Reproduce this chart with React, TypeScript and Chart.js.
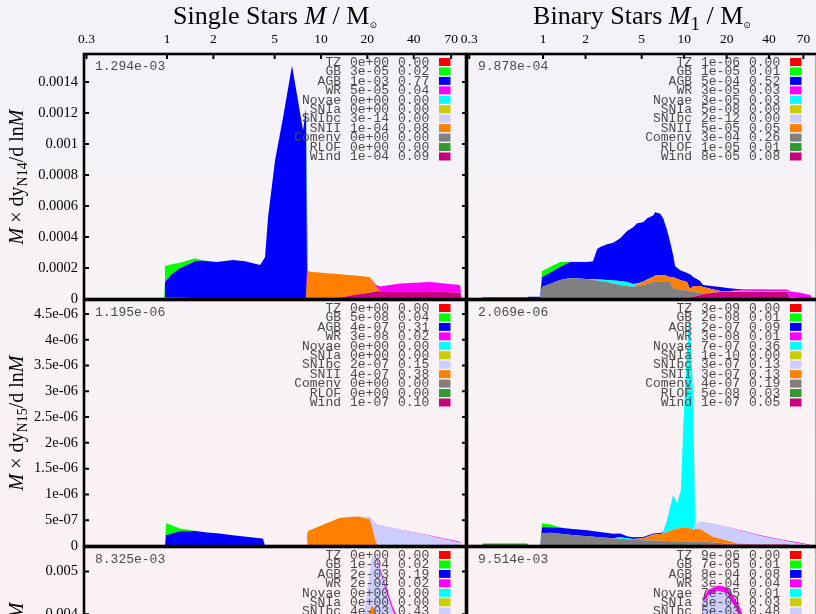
import { useEffect, useRef } from 'react';
import { Chart, registerables } from 'chart.js';

Chart.register(...registerables);

const CANVAS_W = 820;
const CANVAS_H = 800;

// Channels in legend order, with their fill colours
const CHANNELS = ['TZ', 'GB', 'AGB', 'WR', 'Novae', 'SNIa', 'SNIbc', 'SNII', 'Comenv', 'RLOF', 'Wind'];
const CHANNEL_COLORS = ['#ff0000', '#00ff00', '#0000ff', '#ff00ff', '#00ffff', '#cccc00', '#ccccff', '#ff8000', '#808080', '#339933', '#c8007f'];
// Stacking order, bottom to top
const STACK_ORDER = ['Wind', 'RLOF', 'Comenv', 'SNII', 'SNIbc', 'SNIa', 'Novae', 'WR', 'AGB', 'GB', 'TZ'];

const MASS_MIN = 0.289;
const MASS_MAX = 87.4;
const MASS_TICKS = [0.3, 1, 2, 5, 10, 20, 40, 70];
const MASS_TICK_LABELS = ['0.3', '1', '2', '5', '10', '20', '40', '70'];

const N14_Y_TICKS = [0, 0.0002, 0.0004, 0.0006, 0.0008, 0.001, 0.0012, 0.0014];
const N14_Y_LABELS = ['0', '0.0002', '0.0004', '0.0006', '0.0008', '0.001', '0.0012', '0.0014'];
const N15_Y_TICKS = [0, 5e-7, 1e-6, 1.5e-6, 2e-6, 2.5e-6, 3e-6, 3.5e-6, 4e-6, 4.5e-6];
const N15_Y_LABELS = ['0', '5e-07', '1e-06', '1.5e-06', '2e-06', '2.5e-06', '3e-06', '3.5e-06', '4e-06', '4.5e-06'];
const O16_Y_TICKS = [0, 0.001, 0.002, 0.003, 0.004, 0.005];
const O16_Y_LABELS = ['0', '0.001', '0.002', '0.003', '0.004', '0.005'];

// ---------- Single stars, N14 (values in units of 1e-5) ----------
const SN14_UNIT = 1e-5;
const SN14_MASS = [0.289, 0.956, 0.97, 1.06, 1.21, 1.52, 1.64, 2.11, 2.68, 3.21, 4.02, 4.33, 4.53, 5.03, 5.67, 6.48, 7.09, 7.64, 7.99, 8.11, 8.23, 8.48, 13.3, 17.4, 20.8, 22.8, 24.2, 32.6, 51.0, 80.0, 82.0, 87.4];
const SN14_WIND = [0, 0, 1, 1, 1, 0.5, 0.3, 0, 0, 0, 0, 0, 0, 0, 0, 0, 0, 0, 0, 0, 0, 0, 1, 3, 4, 5, 5, 5, 5, 4, 0, 0];
const SN14_SNII = [0, 0, 0, 0, 0, 0, 0, 0, 0, 0, 0, 0, 0, 0, 0, 0, 0, 0, 0, 18, 18, 17.5, 15, 12, 10, 3, 0, 0, 0, 0, 0, 0];
const SN14_WR = [0, 0, 0, 0, 0, 0, 0, 0, 0, 0, 0, 0, 0, 0, 0, 0, 0, 0, 0, 0, 0, 0, 0, 0, 0, 1, 3, 5, 6, 5, 0, 0];
const SN14_AGB = [0, 0, 10, 14.4, 18.9, 23.9, 24.5, 23.8, 25.1, 24.4, 21.9, 27, 52.7, 89.4, 117, 150.5, 128, 108.7, 122.8, 0, 0, 0, 0, 0, 0, 0, 0, 0, 0, 0, 0, 0];
const SN14_GB = [0, 0, 10.3, 6.8, 3.5, 1.9, 0.3, 0, 0, 0, 0, 0, 0, 0, 0, 0, 0, 0, 0, 0, 0, 0, 0, 0, 0, 0, 0, 0, 0, 0, 0, 0];
const SN14_YIELDS = ['0e+00', '3e-05', '1e-03', '5e-05', '0e+00', '0e+00', '3e-14', '1e-04', '0e+00', '0e+00', '1e-04'];
const SN14_FRACS = ['0.00', '0.02', '0.77', '0.04', '0.00', '0.00', '0.00', '0.08', '0.00', '0.00', '0.09'];

// ---------- Binary stars, N14 (units of 1e-5) ----------
const BN14_UNIT = 1e-5;
const BN14_MASS = [0.289, 0.37, 0.375, 0.77, 0.79, 0.952, 0.984, 1.32, 1.55, 2.05, 2.26, 2.42, 2.54, 2.84, 3.14, 3.52, 3.94, 4.35, 4.64, 5.12, 5.47, 6.03, 6.23, 6.76, 7.10, 7.57, 7.96, 8.35, 8.63, 9.37, 10.5, 11.0, 11.6, 12.98, 13.6, 18.0, 20.2, 23.8, 26.2, 34.6, 53.8, 56.4, 66.5, 78.3, 80.9, 87.4];
const BN14_WIND = [0, 0, 0, 0, 0, 0, 0, 0, 0, 0, 0, 0, 0, 0, 0, 0, 0, 0, 0, 0, 0, 0, 0, 0, 0, 0, 0, 0, 0, 0.5, 1, 1, 1.5, 2.6, 3.2, 4.5, 4.5, 4.5, 4.5, 4.5, 4.5, 0.6, 0.3, 0, 0, 0];
const BN14_RLOF = [0, 0, 1.3, 1.3, 0, 0, 0, 0, 0, 0, 0, 0, 0, 0, 0, 0, 0, 0, 0, 0, 0, 0, 0, 0, 0, 0, 0, 0, 0, 0, 0, 0, 0, 0, 0, 0, 0, 0, 0, 0, 0, 0, 0, 0, 0, 0];
const BN14_COMENV = [0, 0, 0, 0, 0, 0, 7.7, 12.2, 13.5, 12.9, 12.2, 11.9, 11.6, 10.9, 10.0, 9.0, 8.4, 7.7, 8.4, 9.0, 9.6, 10.9, 10.9, 10.9, 10.9, 10.9, 10.9, 7.1, 6.4, 5.8, 4.5, 3.9, 3.0, 1.3, 0.3, 0, 0, 0, 0, 0, 0, 0, 0, 0, 0, 0];
const BN14_SNII = [0, 0, 0, 0, 0, 0, 0, 0, 0, 0, 0, 0, 0, 0, 0, 0, 0, 0, 1.3, 1.9, 2.6, 3.5, 4.2, 4.5, 4.5, 3.9, 3.2, 7.1, 7.1, 5.9, 5.4, 1.5, 3.9, 4.5, 4.2, 0.6, 0.3, 0.2, 0, 0, 0, 0, 0, 0, 0, 0];
const BN14_SNIBC = [0, 0, 0, 0, 0, 0, 0, 0, 0, 0, 0, 0, 0, 0, 0, 0, 0, 0, 0, 0, 0, 0, 0, 0, 0, 0, 0, 0, 0, 0, 0, 0, 0, 0, 0, 0, 0, 0.3, 0.3, 0.3, 0.3, 0.3, 0.3, 0.2, 0, 0];
const BN14_NOVAE = [0, 0, 0, 0, 0, 0, 0, 0, 0, 0, 0.6, 0.7, 1.0, 1.3, 1.9, 2.6, 2.6, 1.9, 0.3, 0.3, 0.3, 0, 0, 0, 0, 0, 0, 0, 0, 0, 0, 0, 0, 0, 0, 0, 0, 0, 0, 0, 0, 0, 0, 0, 0, 0];
const BN14_WR = [0, 0, 0, 0, 0, 0, 0, 0, 0, 0, 0, 0, 0, 0, 0, 0, 0, 0, 0, 0, 0, 0, 0, 0, 0, 0, 0, 0, 0, 0, 0, 0, 0, 0, 0, 0, 0, 0.6, 0.8, 1.0, 1.3, 4.0, 3.5, 2.3, 0, 0];
const BN14_AGB = [0, 0, 0, 0, 1.5, 1.5, 6.4, 8.4, 10.3, 10.9, 11.6, 19.6, 20.9, 23.1, 24.4, 27.6, 32.8, 36.6, 38.9, 38.3, 39.5, 39.5, 40.8, 39.5, 36.7, 29.6, 22.5, 14.1, 7.7, 6.4, 5.8, 9.6, 5.8, 3.2, 1.3, 2.6, 2.3, 0.8, 0.5, 0.3, 0, 0, 0, 0, 0, 0];
const BN14_GB = [0, 0, 0, 0, 0, 0, 3.9, 3.2, 0.3, 0, 0, 0, 0, 0, 0, 0, 0, 0, 0, 0, 0, 0, 0, 0, 0, 0, 0, 0, 0, 0, 0, 0, 0, 0, 0, 0, 0, 0, 0, 0, 0, 0, 0, 0, 0, 0];
const BN14_YIELDS = ['1e-06', '1e-05', '5e-04', '3e-05', '3e-05', '5e-08', '2e-12', '5e-05', '3e-04', '1e-05', '8e-05'];
const BN14_FRACS = ['0.00', '0.01', '0.52', '0.03', '0.03', '0.00', '0.00', '0.05', '0.26', '0.01', '0.08'];

// ---------- Single stars, N15 (units of 1e-8) ----------
const SN15_UNIT = 1e-8;
const SN15_MASS = [0.289, 0.97, 0.985, 1.21, 1.52, 1.82, 2.11, 2.68, 4.02, 4.20, 4.33, 8.11, 8.23, 13.3, 17.4, 20.8, 22.8, 23.5, 32.6, 51.0, 80.0, 82.0, 87.4];
const SN15_WIND = [0, 0, 1, 1, 0.5, 0, 0, 0, 0, 0, 0, 0, 0, 0, 1, 1.5, 1.5, 1.5, 1.5, 1.5, 1.5, 0, 0];
const SN15_SNII = [0, 0, 0, 0, 0, 0, 0, 0, 0, 0, 0, 0, 29, 55, 56, 50, 5, 0, 0, 0, 0, 0, 0];
const SN15_SNIBC = [0, 0, 0, 0, 0, 0, 0, 0, 0, 0, 0, 0, 0, 0, 0, 5, 37, 40, 30, 18, 5, 0, 0];
const SN15_WR = [0, 0, 0, 0, 0, 0, 0, 0, 0, 0, 0, 0, 0, 0, 0, 0, 0, 0, 0.5, 1, 1.5, 0, 0];
const SN15_AGB = [0, 0, 19.8, 27.6, 28.5, 26, 24.7, 20.8, 15, 14, 0.5, 0.5, 0, 0, 0, 0, 0, 0, 0, 0, 0, 0, 0];
const SN15_GB = [0, 0, 23.3, 5.2, 0.5, 0, 0, 0, 0, 0, 0, 0, 0, 0, 0, 0, 0, 0, 0, 0, 0, 0, 0];
const SN15_YIELDS = ['0e+00', '5e-08', '4e-07', '3e-08', '0e+00', '0e+00', '2e-07', '4e-07', '0e+00', '0e+00', '1e-07'];
const SN15_FRACS = ['0.00', '0.04', '0.31', '0.02', '0.00', '0.00', '0.15', '0.38', '0.00', '0.00', '0.10'];

// ---------- Binary stars, N15 (units of 1e-8) ----------
const BN15_UNIT = 1e-8;
const BN15_MASS = [0.289, 0.37, 0.375, 0.77, 0.79, 0.952, 0.984, 1.15, 1.32, 1.55, 2.05, 3.14, 3.52, 3.94, 4.35, 5.12, 6.03, 6.76, 7.10, 7.57, 8.35, 8.92, 9.48, 9.84, 10.3, 10.85, 11.4, 11.6, 11.97, 12.98, 16.1, 20.2, 23.8, 34.6, 53.8, 59.3, 75.7, 80.9, 87.4];
const BN15_WIND = [0, 0, 0, 0, 0, 0, 0, 0, 0, 0, 0, 0, 0, 0, 0, 0, 0, 0, 0, 0, 0, 0, 0, 0, 0, 0, 0, 0, 0, 2, 3, 3, 3, 3, 3, 0.5, 0, 0, 0];
const BN15_RLOF = [0, 0, 5, 5, 0, 0, 0, 0, 0, 0, 0, 0, 0, 0, 0, 0, 0, 0, 0, 0, 0, 0, 0, 0, 0, 0, 0, 0, 0, 0, 0, 0, 0, 0, 0, 0, 0, 0, 0];
const BN15_COMENV = [0, 0, 0, 0, 0, 0, 24.7, 25.6, 23.7, 21.8, 18.8, 15, 14, 13, 12, 11, 10.5, 10, 10, 9.5, 9.1, 9, 9, 9, 9, 8.7, 8.5, 8.5, 8.3, 7, 4, 2, 1, 0, 0, 0, 0, 0, 0];
const BN15_SNII = [0, 0, 0, 0, 0, 0, 0, 0, 0, 0, 0, 0, 0, 0, 1, 4, 11.8, 13, 14.5, 17.7, 22.4, 25, 26, 26.4, 26.4, 25.5, 24, 23, 24.5, 24, 10.5, 5.7, 1, 0, 0, 0, 0, 0, 0];
const BN15_SNIBC = [0, 0, 0, 0, 0, 0, 0, 0, 0, 0, 0, 0, 0, 0, 0, 0, 0, 0, 0, 0, 0, 0, 0, 0, 0, 0, 0, 0, 9.7, 15, 26.2, 26.2, 26, 16.3, 5.6, 6.5, 2, 0, 0];
const BN15_NOVAE = [0, 0, 0, 0, 0, 0, 0, 0, 0, 0, 0, 0, 3, 2, 0.5, 0, 0, 0, 0.5, 22.7, 67, 48, 73, 190, 307, 418, 309, 251, 0, 0, 0, 0, 0, 0, 0, 0, 0, 0, 0];
const BN15_WR = [0, 0, 0, 0, 0, 0, 0, 0, 0, 0, 0, 0, 0, 0, 0, 0, 0, 0, 0, 0, 0, 0, 0, 0, 0, 0, 0, 0, 0, 0, 0, 0.5, 1, 1.5, 1.5, 1.5, 1.3, 0, 0];
const BN15_AGB = [0, 0, 0, 0, 1, 1, 11.7, 10.7, 11.7, 11.7, 11.7, 8.7, 7, 4, 3.5, 2.5, 2, 2, 1.5, 0.5, 0.5, 0.5, 0.5, 0, 0, 0, 0, 0, 0, 0, 0, 0, 0, 0, 0, 0, 0, 0, 0];
const BN15_GB = [0, 0, 0, 0, 0, 0, 7.8, 4.9, 1.0, 0, 0, 0, 0, 0, 0, 0, 0, 0, 0, 0, 0, 0, 0, 0, 0, 0, 0, 0, 0, 0, 0, 0, 0, 0, 0, 0, 0, 0, 0];
const BN15_YIELDS = ['3e-09', '2e-08', '2e-07', '3e-08', '7e-07', '1e-10', '3e-07', '3e-07', '4e-07', '5e-08', '1e-07'];
const BN15_FRACS = ['0.00', '0.01', '0.09', '0.01', '0.36', '0.00', '0.13', '0.13', '0.19', '0.03', '0.05'];

// ---------- Single stars, O16 (units of 1e-3) ----------
const SO16_UNIT = 1e-3;
const SO16_MASS = [0.289, 0.97, 0.985, 2.0, 5.0, 8.0, 8.2, 12.0, 17.9, 19.3, 21.4, 22.4, 23.4, 26.0, 29.4, 40, 60, 80, 82, 87.4];
const SO16_WIND = [0, 0, 0, 0, 0, 0, 0, 0, 0.1, 0.1, 0.1, 0.1, 0.1, 0.1, 0.1, 0.1, 0.1, 0.1, 0, 0];
const SO16_SNII = [0, 0, 0, 0, 0, 0, 1.5, 2.5, 3.3, 3.7, 4.1, 4.0, 3.0, 1.0, 0.3, 0, 0, 0, 0, 0];
const SO16_SNIBC = [0, 0, 0, 0, 0, 0, 0, 0, 0.2, 0.35, 1.17, 1.25, 2.1, 3.5, 3.65, 2.9, 1.5, 0.5, 0, 0];
const SO16_WR = [0, 0, 0, 0, 0, 0, 0, 0, 0, 0, 0, 0, 0.06, 0.1, 0.1, 0.1, 0.1, 0.05, 0, 0];
const SO16_AGB = [0, 0, 1.0, 1.2, 1.0, 0.8, 0, 0, 0, 0, 0, 0, 0, 0, 0, 0, 0, 0, 0, 0];
const SO16_GB = [0, 0, 0.3, 0, 0, 0, 0, 0, 0, 0, 0, 0, 0, 0, 0, 0, 0, 0, 0, 0];
const SO16_YIELDS = ['0e+00', '1e-04', '2e-03', '2e-04', '0e+00', '0e+00', '4e-03', '3e-03', '0e+00', '0e+00', '3e-04'];
const SO16_FRACS = ['0.00', '0.02', '0.19', '0.02', '0.00', '0.00', '0.43', '0.31', '0.00', '0.00', '0.03'];

// ---------- Binary stars, O16 (units of 1e-3) ----------
const BO16_UNIT = 1e-3;
const BO16_MASS = [0.289, 0.97, 0.985, 2, 5, 8, 10, 12.5, 13.6, 14.8, 17.4, 20.2, 22.2, 24.9, 30, 45, 70, 80.9, 87.4];
const BO16_COMENV = [0, 0, 0.5, 0.8, 0.8, 0.8, 0.8, 0.8, 0.8, 0.8, 0.8, 0.6, 0.5, 0.4, 0.2, 0.1, 0, 0, 0];
const BO16_SNII = [0, 0, 0, 0, 0, 0.3, 1.0, 1.2, 1.2, 1.2, 1.2, 1.2, 1.2, 1.0, 0.6, 0.3, 0.1, 0, 0];
const BO16_SNIBC = [0, 0, 0, 0, 0, 0, 0, 0.5, 2.3, 2.48, 2.58, 2.71, 2.58, 2.6, 2.5, 1.5, 0.5, 0, 0];
const BO16_WR = [0, 0, 0, 0, 0, 0, 0, 0.02, 0.1, 0.12, 0.12, 0.15, 0.2, 0.2, 0.1, 0.05, 0.05, 0, 0];
const BO16_AGB = [0, 0, 0.8, 1.0, 0.6, 0.2, 0.1, 0, 0, 0, 0, 0, 0, 0, 0, 0, 0, 0, 0];
const BO16_YIELDS = ['9e-06', '7e-05', '8e-04', '3e-04', '7e-05', '3e-04', '5e-03', '2e-03', '1e-03', '4e-05', '2e-04'];
const BO16_FRACS = ['0.00', '0.01', '0.08', '0.04', '0.01', '0.03', '0.48', '0.20', '0.13', '0.00', '0.02'];

interface PanelSpec {
  id: string;
  masses: number[];
  unit: number;
  series: Record<string, number[]>;
  yMax: number;
  yTicks: number[];
  yLabels: string[];
  total: string;
  yields: string[];
  fracs: string[];
  area: { left: number; top: number; right: number; bottom: number };
  showX: boolean;
  showY: boolean;
}

const LEFT_X = { left: 84, right: 466 };
const RIGHT_X = { left: 467, right: 817 };
const ROW1 = { top: 54, bottom: 299 };
const ROW2 = { top: 300, bottom: 546 };
const ROW3 = { top: 547, bottom: 793 };

const PANELS: PanelSpec[] = [
  {
    id: 'sn14', masses: SN14_MASS, unit: SN14_UNIT,
    series: { Wind: SN14_WIND, SNII: SN14_SNII, WR: SN14_WR, AGB: SN14_AGB, GB: SN14_GB },
    yMax: 0.00158, yTicks: N14_Y_TICKS, yLabels: N14_Y_LABELS,
    total: '1.294e-03', yields: SN14_YIELDS, fracs: SN14_FRACS,
    area: { ...LEFT_X, ...ROW1 }, showX: true, showY: true,
  },
  {
    id: 'bn14', masses: BN14_MASS, unit: BN14_UNIT,
    series: { Wind: BN14_WIND, RLOF: BN14_RLOF, Comenv: BN14_COMENV, SNII: BN14_SNII, SNIbc: BN14_SNIBC, Novae: BN14_NOVAE, WR: BN14_WR, AGB: BN14_AGB, GB: BN14_GB },
    yMax: 0.00158, yTicks: N14_Y_TICKS, yLabels: N14_Y_LABELS,
    total: '9.878e-04', yields: BN14_YIELDS, fracs: BN14_FRACS,
    area: { ...RIGHT_X, ...ROW1 }, showX: true, showY: false,
  },
  {
    id: 'sn15', masses: SN15_MASS, unit: SN15_UNIT,
    series: { Wind: SN15_WIND, SNII: SN15_SNII, SNIbc: SN15_SNIBC, WR: SN15_WR, AGB: SN15_AGB, GB: SN15_GB },
    yMax: 4.77e-6, yTicks: N15_Y_TICKS, yLabels: N15_Y_LABELS,
    total: '1.195e-06', yields: SN15_YIELDS, fracs: SN15_FRACS,
    area: { ...LEFT_X, ...ROW2 }, showX: false, showY: true,
  },
  {
    id: 'bn15', masses: BN15_MASS, unit: BN15_UNIT,
    series: { Wind: BN15_WIND, RLOF: BN15_RLOF, Comenv: BN15_COMENV, SNII: BN15_SNII, SNIbc: BN15_SNIBC, Novae: BN15_NOVAE, WR: BN15_WR, AGB: BN15_AGB, GB: BN15_GB },
    yMax: 4.77e-6, yTicks: N15_Y_TICKS, yLabels: N15_Y_LABELS,
    total: '2.069e-06', yields: BN15_YIELDS, fracs: BN15_FRACS,
    area: { ...RIGHT_X, ...ROW2 }, showX: false, showY: false,
  },
  {
    id: 'so16', masses: SO16_MASS, unit: SO16_UNIT,
    series: { Wind: SO16_WIND, SNII: SO16_SNII, SNIbc: SO16_SNIBC, WR: SO16_WR, AGB: SO16_AGB, GB: SO16_GB },
    yMax: 0.00557, yTicks: O16_Y_TICKS, yLabels: O16_Y_LABELS,
    total: '8.325e-03', yields: SO16_YIELDS, fracs: SO16_FRACS,
    area: { ...LEFT_X, ...ROW3 }, showX: false, showY: true,
  },
  {
    id: 'bo16', masses: BO16_MASS, unit: BO16_UNIT,
    series: { Comenv: BO16_COMENV, SNII: BO16_SNII, SNIbc: BO16_SNIBC, WR: BO16_WR, AGB: BO16_AGB },
    yMax: 0.00557, yTicks: O16_Y_TICKS, yLabels: O16_Y_LABELS,
    total: '9.514e-03', yields: BO16_YIELDS, fracs: BO16_FRACS,
    area: { ...RIGHT_X, ...ROW3 }, showX: false, showY: false,
  },
];

const MONO = '"Liberation Mono", "Courier New", monospace';
const SERIF = '"Liberation Serif", "Times New Roman", serif';
const KEY_TEXT = '#4a4a4a';

// Frame, inward ticks, running total and the channel key of one panel
function framePlugin(spec: PanelSpec) {
  return {
    id: 'panelFrame' + spec.id,
    afterDatasetsDraw(chart: Chart) {
      const ctx = chart.ctx;
      const a = chart.chartArea;
      const xs = chart.scales.x;
      const ys = chart.scales.y;
      ctx.save();

      ctx.font = `13px ${MONO}`;
      ctx.fillStyle = KEY_TEXT;
      ctx.textBaseline = 'middle';
      ctx.textAlign = 'left';
      ctx.fillText(spec.total, a.left + 11, a.top + 13);

      CHANNELS.forEach((ch, i) => {
        const y = a.top + 8.3 + i * 9.45;
        ctx.fillStyle = KEY_TEXT;
        ctx.textAlign = 'right';
        ctx.fillText(ch, a.right - 125, y);
        ctx.textAlign = 'left';
        ctx.fillText(spec.yields[i], a.right - 116, y);
        ctx.fillText(spec.fracs[i], a.right - 68, y);
        ctx.fillStyle = CHANNEL_COLORS[i];
        ctx.fillRect(a.right - 27, y - 4.3, 11.5, 8);
      });

      ctx.strokeStyle = '#000';
      ctx.lineWidth = 2;
      ctx.beginPath();
      if (spec.showY) {
        spec.yTicks.forEach((v) => {
          const py = ys.getPixelForValue(v);
          if (py > a.bottom - 2) return;
          ctx.moveTo(a.left, py);
          ctx.lineTo(a.left + 5, py);
          ctx.moveTo(a.right, py);
          ctx.lineTo(a.right - 4, py);
        });
      }
      if (spec.showX) {
        MASS_TICKS.forEach((m) => {
          const px = xs.getPixelForValue(m);
          ctx.moveTo(px, a.top);
          ctx.lineTo(px, a.top + 5);
        });
      }
      ctx.stroke();

      ctx.lineWidth = 2.6;
      ctx.strokeRect(a.left, a.top, a.right - a.left, a.bottom - a.top);
      ctx.restore();
    },
  };
}

function buildConfig(spec: PanelSpec): any {
  const present = STACK_ORDER.filter((ch) => spec.series[ch]);
  const datasets = present.map((ch, i) => ({
    label: ch,
    data: spec.series[ch].map((v) => v * spec.unit),
    backgroundColor: CHANNEL_COLORS[CHANNELS.indexOf(ch)],
    borderColor: 'rgba(0,0,0,0)',
    borderWidth: 0,
    pointRadius: 0,
    pointHoverRadius: 0,
    tension: 0,
    fill: i === 0 ? 'origin' : '-1',
  }));
  const a = spec.area;
  return {
    type: 'line',
    data: { labels: spec.masses, datasets },
    plugins: [framePlugin(spec)],
    options: {
      responsive: false,
      animation: false,
      events: [],
      layout: {
        padding: {
          left: spec.showY ? 0 : a.left,
          top: spec.showX ? 0 : a.top,
          right: CANVAS_W - a.right,
          bottom: CANVAS_H - a.bottom,
        },
      },
      plugins: { legend: { display: false }, tooltip: { enabled: false } },
      scales: {
        x: {
          type: 'logarithmic',
          position: 'top',
          bounds: 'data',
          min: MASS_MIN,
          max: MASS_MAX,
          display: spec.showX,
          grid: { display: false, drawTicks: false },
          border: { display: false },
          ticks: {
            autoSkip: false,
            maxRotation: 0,
            padding: 6,
            color: '#000',
            font: { family: SERIF, size: 13.5 },
            callback: (_v: number, i: number) => MASS_TICK_LABELS[i],
          },
          afterBuildTicks: (s: any) => {
            s.ticks = MASS_TICKS.map((v) => ({ value: v }));
          },
          afterFit: (s: any) => {
            if (spec.showX) s.height = a.top;
          },
        },
        y: {
          type: 'linear',
          stacked: true,
          bounds: 'data',
          min: 0,
          max: spec.yMax,
          display: true,
          grid: { display: false, drawTicks: false },
          border: { display: false },
          ticks: {
            display: spec.showY,
            padding: 6,
            color: '#000',
            font: { family: SERIF, size: 14.5 },
            callback: (_v: number, i: number) => spec.yLabels[i],
          },
          afterBuildTicks: (s: any) => {
            s.ticks = spec.yTicks.map((v) => ({ value: v }));
          },
          afterFit: (s: any) => {
            s.width = spec.showY ? a.left : 0;
          },
        },
      },
    },
  };
}

function Panel({ spec }: { spec: PanelSpec }) {
  const ref = useRef<HTMLCanvasElement>(null);
  useEffect(() => {
    if (!ref.current) return;
    const chart = new Chart(ref.current, buildConfig(spec));
    return () => chart.destroy();
  }, [spec]);
  return (
    <canvas
      ref={ref}
      width={CANVAS_W}
      height={CANVAS_H}
      style={{ position: 'absolute', left: 0, top: 0, width: CANVAS_W, height: CANVAS_H }}
    />
  );
}

function YTitle({ sub, cy }: { sub: string; cy: number }) {
  return (
    <div
      style={{
        position: 'absolute', left: 17, top: cy,
        transform: 'translate(-50%, -50%) rotate(-90deg)',
        whiteSpace: 'nowrap', fontFamily: SERIF, fontSize: 20, lineHeight: '22px', color: '#000',
      }}
    >
      <i>M</i> × dy<span style={{ fontSize: 14, position: 'relative', top: 4 }}>{sub}</span>/d ln<i>M</i>
    </div>
  );
}

const SUN_STYLE = { fontSize: 9, position: 'relative' as const, top: 4, fontFamily: '"DejaVu Sans", sans-serif' };

export default function App() {
  return (
    <div
      style={{
        position: 'fixed', left: 0, top: 0, width: 816, height: 614, overflow: 'hidden',
        background: 'linear-gradient(to bottom, #f3f2f8 0%, #f8f3f6 50%, #fcf1f2 100%)',
      }}
    >
      {PANELS.map((p) => (
        <Panel key={p.id} spec={p} />
      ))}
      <div style={{ position: 'absolute', left: 84, width: 382, top: 1, textAlign: 'center', fontFamily: SERIF, fontSize: 26, lineHeight: '30px', whiteSpace: 'nowrap' }}>
        Single Stars <i>M</i> / M<span style={SUN_STYLE}>⊙</span>
      </div>
      <div style={{ position: 'absolute', left: 467, width: 350, top: 1, textAlign: 'center', fontFamily: SERIF, fontSize: 26, lineHeight: '30px', whiteSpace: 'nowrap' }}>
        Binary Stars <i>M</i><span style={{ fontSize: 19, position: 'relative', top: 6 }}>1</span> / M<span style={SUN_STYLE}>⊙</span>
      </div>
      <YTitle sub="N14" cy={177} />
      <YTitle sub="N15" cy={423} />
      <YTitle sub="O16" cy={670} />
    </div>
  );
}
